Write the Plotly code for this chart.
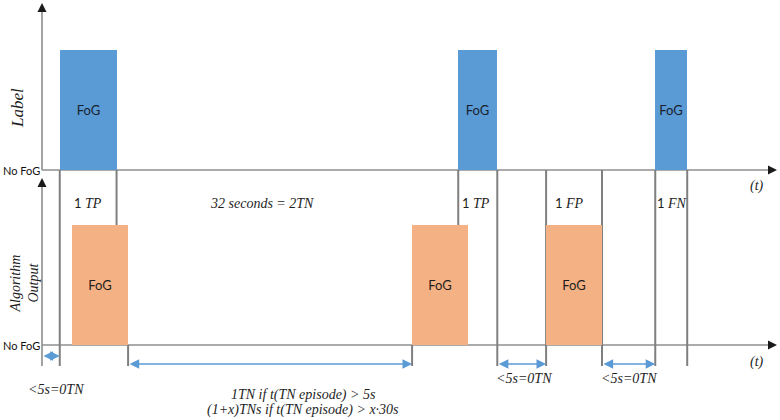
import plotly.graph_objects as go

# ---- data: episode boundaries on the schematic time axis (seconds) ----
label_start = [2.0, 46.9, 69.1]
label_end = [8.4, 51.3, 72.7]
output_start = [3.4, 41.7, 56.8]
output_end = [9.7, 48.0, 63.1]
bar_text = ["FoG", "FoG", "FoG"]
level_label = "No FoG"
outcome_labels = ["1 <i style='font-family:Liberation Serif;font-size:14px'>TP</i>",
                  "1 <i style='font-family:Liberation Serif;font-size:14px'>TP</i>",
                  "1 <i style='font-family:Liberation Serif;font-size:14px'>FP</i>",
                  "1 <i style='font-family:Liberation Serif;font-size:14px'>FN</i>"]
gap_label = "<i>32 seconds = 2TN</i>"
short_gap_label = "<i>&lt;5s=0TN</i>"
rule_lines = ["<i>1TN if t(TN episode) &gt; 5s</i>",
              "<i>(1+x)TNs if t(TN episode) &gt; x·30s</i>"]

# ---- layout constants ----
K = 8.875                      # px per second
X_RANGE = [-42 / K, (780 - 42) / K]
def ypx(p):                    # vertical layout helper (px from top -> y units)
    return (345 - p) / 120.0
Y_RANGE = [ypx(420), ypx(0)]
LAB = ypx(170)                 # label panel baseline
FOG = 1.0                      # FoG level height
TICK_BOTTOM = ypx(366)
AX_END = (777 - 42) / K

BLUE = "#5B9BD5"
ORANGE = "#F4B183"
VGRAY = "#7F7F7F"
HGRAY = "#ABABAB"
AGRAY = "#8C8C8C"
SERIF = "Liberation Serif"
SANS = "Lato"
TXT = "#1e1e1e"

def centers(s, e):
    return [(a + b) / 2 for a, b in zip(s, e)]
def widths(s, e):
    return [b - a for a, b in zip(s, e)]

fig = go.Figure()

fig.add_trace(go.Bar(
    x=centers(label_start, label_end), y=[FOG] * 3, base=LAB,
    width=widths(label_start, label_end), marker=dict(color=BLUE, line=dict(width=0)),
    text=bar_text, textposition="inside", insidetextanchor="middle", textangle=0,
    textfont=dict(family=SANS, size=13, color="#17222e"), showlegend=False, hoverinfo="skip"))
fig.add_trace(go.Bar(
    x=centers(output_start, output_end), y=[FOG] * 3, base=0,
    width=widths(output_start, output_end), marker=dict(color=ORANGE, line=dict(width=0)),
    text=bar_text, textposition="inside", insidetextanchor="middle", textangle=0,
    textfont=dict(family=SANS, size=13, color="#1e1e1e"), showlegend=False, hoverinfo="skip"))

shapes = []
def seg(x0, x1, y0, y1, color, width):
    shapes.append(dict(type="line", xref="x", yref="y", x0=x0, x1=x1, y0=y0, y1=y1,
                       line=dict(color=color, width=width), layer="below"))

# baselines (time axes)
seg(0, AX_END - 0.6, LAB, LAB, HGRAY, 2)
seg(0, AX_END - 0.6, 0, 0, HGRAY, 2)
# vertical axes
seg(0, 0, LAB, ypx(8), AGRAY, 1.6)
seg(0, 0, TICK_BOTTOM, ypx(183), AGRAY, 1.6)

# event boundary lines
full = [label_start[0], label_end[1], output_start[2], output_end[2], label_start[2], label_end[2]]
short = [label_end[0], label_start[1]]
ticks = [output_end[0], output_start[1]]
for t in full:
    seg(t, t, LAB, TICK_BOTTOM, VGRAY, 2)
for t in short:
    seg(t, t, LAB, FOG, VGRAY, 2)
for t in ticks:
    seg(t, t, 0, TICK_BOTTOM, VGRAY, 2)

# axis arrowheads
fig.add_trace(go.Scatter(x=[0, 0], y=[ypx(3), ypx(178)], mode="markers",
                         marker=dict(symbol="arrow-up", size=9, color="#1a1a1a", line=dict(width=0)),
                         showlegend=False, hoverinfo="skip"))
fig.add_trace(go.Scatter(x=[AX_END, AX_END], y=[LAB, 0], mode="markers",
                         marker=dict(symbol="arrow-right", size=9, color="#1a1a1a", line=dict(width=0)),
                         showlegend=False, hoverinfo="skip"))

ann = []
def text(x, y, s, size=14, family=SERIF, xanchor="center", angle=0, xshift=0, color=TXT):
    ann.append(dict(x=x, y=y, xref="x", yref="y", text=s, showarrow=False, xanchor=xanchor,
                    yanchor="middle", textangle=angle, xshift=xshift, borderpad=0,
                    font=dict(family=family, size=size, color=color)))

def darrow(x0, x1, y):
    ann.append(dict(x=x1, y=y, ax=x0, ay=y, xref="x", yref="y", axref="x", ayref="y",
                    text="", showarrow=True, arrowside="end+start", arrowhead=2,
                    arrowsize=1.2, arrowwidth=1.6, arrowcolor=BLUE, standoff=0, startstandoff=0))

# level labels
text(0, LAB, level_label, size=11, family=SANS, xanchor="right", xshift=-1, color="#111111")
text(0, 0, level_label, size=11, family=SANS, xanchor="right", xshift=-1, color="#111111")
# panel titles
text(-2.82, ypx(108), "<i>Label</i>", size=17, angle=-90)
text(-2.08, ypx(284), "<i>Algorithm<br>Output</i>", size=14, angle=-90)
# (t)
text(X_RANGE[1] - 2.6, ypx(186), "<i>(t)</i>", size=14)
text(X_RANGE[1] - 2.6, ypx(362), "<i>(t)</i>", size=14)

# outcome labels
pairs = [(label_start[0], label_end[0]), (label_start[1], label_end[1]),
         (output_start[2], output_end[2]), (label_start[2], label_end[2])]
shifts = [0, -2, -5, 0]
for (a, b), s, sh in zip(pairs, outcome_labels, shifts):
    text((a + b) / 2, ypx(203), s, size=13, family=SANS, xshift=sh)
text((output_end[0] + output_start[1]) / 2, ypx(203), gap_label, size=14, xshift=-8)

# blue interval arrows
darrow(0, label_start[0], ypx(356))
darrow(output_end[0], output_start[1], ypx(364))
darrow(label_end[1], output_start[2], ypx(364))
darrow(output_end[2], label_start[2], ypx(364))

text(label_start[0] / 2, ypx(389), short_gap_label, size=14, xshift=5)
text((label_end[1] + output_start[2]) / 2, ypx(378), short_gap_label, size=14, xshift=2)
text((output_end[2] + label_start[2]) / 2, ypx(378), short_gap_label, size=14)
mid = (output_end[0] + output_start[1]) / 2
text(mid, ypx(395), rule_lines[0], size=14, xshift=33)
text(mid, ypx(410), rule_lines[1], size=14, xshift=33)

fig.update_layout(
    width=780, height=420, autosize=False,
    margin=dict(l=0, r=0, t=0, b=0),
    paper_bgcolor="white", plot_bgcolor="white",
    barmode="overlay", bargap=0,
    xaxis=dict(range=X_RANGE, visible=False, fixedrange=True),
    yaxis=dict(range=Y_RANGE, visible=False, fixedrange=True),
    shapes=shapes, annotations=ann,
)

fig.write_html("out.html", config={"displayModeBar": False},
               post_script="document.body.style.margin='0';document.body.style.overflow='hidden';")
